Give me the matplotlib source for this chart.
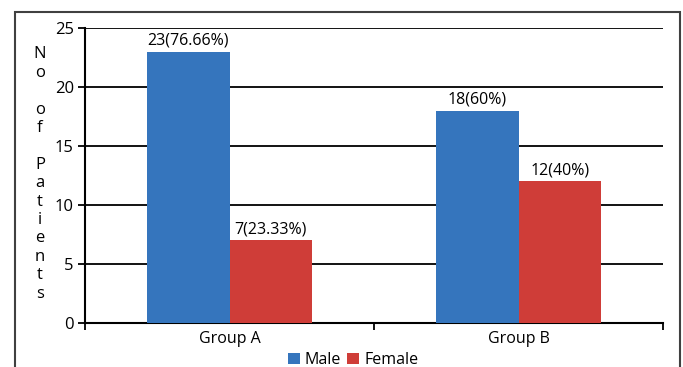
import numpy as np
import matplotlib.pyplot as plt
from matplotlib.patches import Rectangle

plt.rcParams['font.family'] = ['Open Sans', 'DejaVu Sans']

groups = ['Group A', 'Group B']
male = [23, 18]
female = [7, 12]
male_labels = ['23(76.66%)', '18(60%)']
female_labels = ['7(23.33%)', '12(40%)']
yticks = [0, 5, 10, 15, 20, 25]

blue = '#3575BD'
red = '#CF3D38'

fig = plt.figure(figsize=(6.83, 3.67), dpi=100)
ax = fig.add_axes([85/683, 1 - 323/367, 578/683, 295/367])

x = np.arange(len(groups))
w = 0.285
b1 = ax.bar(x - w/2, male, w, color=blue, label='Male', zorder=3)
b2 = ax.bar(x + w/2, female, w, color=red, label='Female', zorder=3)

for rect, t in zip(b1, male_labels):
    ax.text(rect.get_x() + rect.get_width()/2, rect.get_height() + 0.25, t,
            ha='center', va='bottom', fontsize=11.5)
for rect, t in zip(b2, female_labels):
    ax.text(rect.get_x() + rect.get_width()/2, rect.get_height() + 0.25, t,
            ha='center', va='bottom', fontsize=11.5)

ax.set_xlim(-0.5, 1.5)
ax.set_ylim(0, 25)
ax.set_yticks(yticks)
ax.yaxis.grid(True, color='black', linewidth=1.3, zorder=0)
ax.set_axisbelow(True)

# category ticks at the boundaries, labels at the centers
ax.set_xticks([-0.5, 0.5, 1.5])
ax.set_xticklabels([])
ax.set_xticks(x, minor=True)
ax.set_xticklabels(groups, minor=True, fontsize=11.5)
ax.tick_params(axis='x', which='minor', length=0, pad=6)
ax.tick_params(axis='x', which='major', length=5, width=1.3, direction='out')
ax.tick_params(axis='y', length=5, width=1.3, labelsize=12, pad=3)

for s in ['top', 'right']:
    ax.spines[s].set_visible(False)
ax.spines['left'].set_linewidth(1.5)
ax.spines['bottom'].set_linewidth(1.5)

ylab = 'N\no\n\no\nf\n\nP\na\nt\ni\ne\nn\nt\ns'
fig.text(40/683, 1 - 174/367, ylab, ha='center', va='center', fontsize=12,
         linespacing=1.2)

fig.legend(handles=[b1, b2], labels=['Male', 'Female'], loc='center',
           bbox_to_anchor=(353/683, 1 - 360/367), ncol=2, frameon=False,
           fontsize=11.5, handlelength=0.75, handleheight=0.75,
           handletextpad=0.3, columnspacing=0.4, borderpad=0)

fig.patches.append(Rectangle((15/683, -0.2), 665/683, 1.2 - 12/367,
                             transform=fig.transFigure, fill=False,
                             edgecolor='#404040', linewidth=1.5))

fig.savefig('out.png', dpi=100)
